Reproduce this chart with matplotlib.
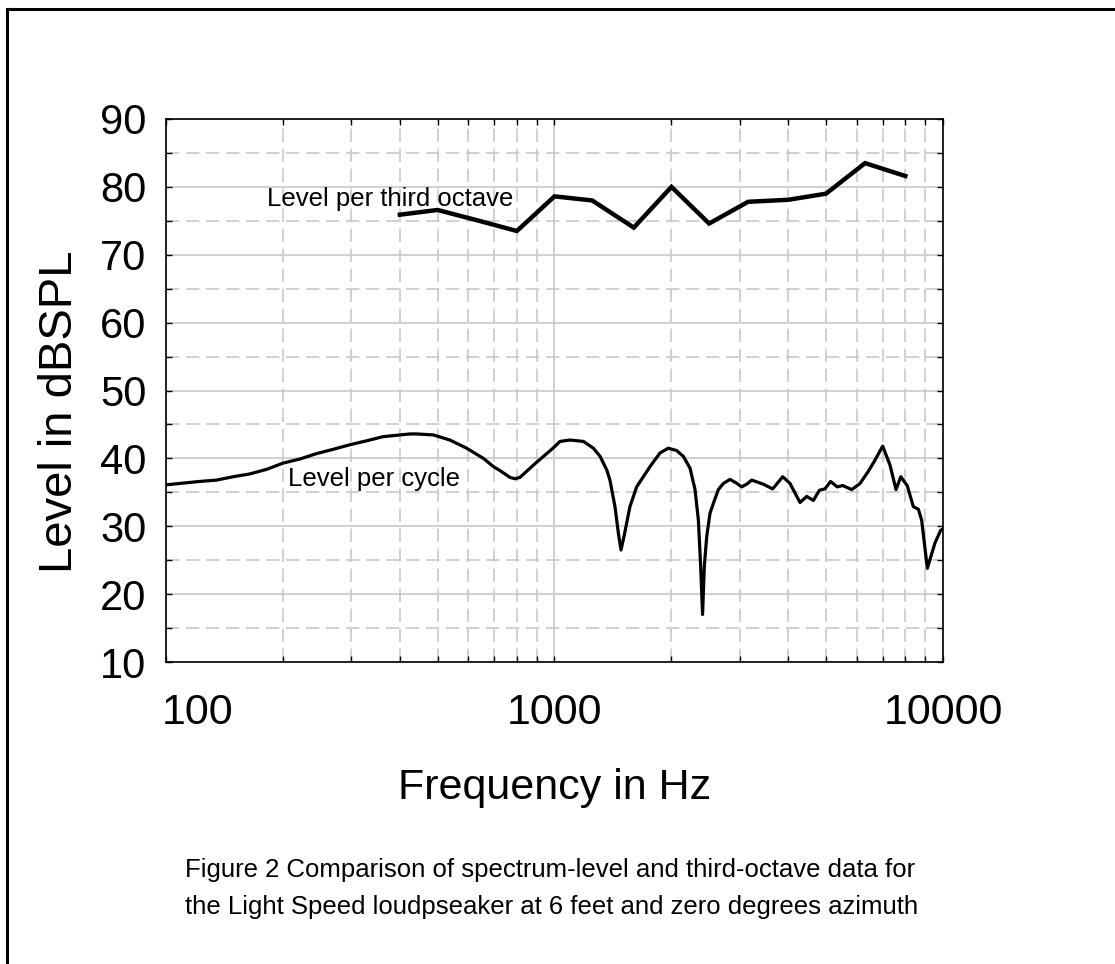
import matplotlib
matplotlib.use("Agg")
import matplotlib.pyplot as plt
from matplotlib.ticker import FixedLocator, NullFormatter, FixedFormatter
from matplotlib.lines import Line2D
from matplotlib.transforms import ScaledTranslation

plt.rcParams['font.family'] = ['Liberation Sans', 'DejaVu Sans']

# Third-octave band levels
third_freq = [400, 500, 630, 800, 1000, 1250, 1600, 2000, 2500, 3150, 4000, 5000, 6300, 8000]
third_level = [75.9, 76.6, 75.1, 73.5, 78.6, 78.0, 74.0, 80.0, 74.6, 77.8, 78.1, 79.0, 83.5, 81.6]

# Spectrum level (per cycle)
cycle_freq = [100, 122, 135, 149, 164, 182, 200, 221, 244, 270, 297, 329, 362, 400, 425, 442,
              488, 538, 594, 656, 696, 724, 768, 791, 815, 882, 1000,
              1033, 1096, 1187, 1259, 1310, 1363, 1389, 1431, 1460, 1483, 1510, 1534, 1564,
              1627, 1693, 1762, 1869, 1963, 2063, 2146, 2233, 2300, 2346, 2378, 2405, 2430,
              2465, 2513, 2565, 2641, 2720, 2829, 2932, 3033, 3124, 3218, 3447, 3644, 3868,
              4038, 4285, 4458, 4637, 4807, 4967, 5136, 5343, 5517, 5822, 6115, 6425,
              6645, 6995, 7305, 7570, 7786, 8094, 8385, 8641, 8812, 9113, 9530, 9862, 10000]
cycle_level = [36.1, 36.6, 36.8, 37.3, 37.7, 38.4, 39.3, 39.9, 40.7, 41.35, 42.0, 42.6, 43.2, 43.45, 43.6, 43.6,
               43.45, 42.7, 41.5, 40.0, 38.8, 38.2, 37.2, 37.0, 37.2, 39.0, 41.7,
               42.5, 42.7, 42.5, 41.5, 40.3, 38.3, 36.8, 32.9, 29.0, 26.5, 28.5, 30.5, 32.9,
               35.8, 37.3, 38.8, 40.8, 41.5, 41.15, 40.3, 38.55, 35.4, 30.9, 24.1, 17.0, 24.1,
               28.5, 31.9, 33.4, 35.4, 36.3, 36.9, 36.4, 35.8, 36.2, 36.8, 36.2, 35.5, 37.3,
               36.3, 33.5, 34.4, 33.8, 35.3, 35.5, 36.6, 35.8, 36.0, 35.4, 36.3, 38.1,
               39.5, 41.8, 39.0, 35.4, 37.3, 35.95, 32.9, 32.5, 30.9, 23.8, 27.5, 29.4, 29.6]

x_major = [100, 1000, 10000]
x_major_labels = ["100", "1000", "10000"]
x_minor = [200, 300, 400, 500, 600, 700, 800, 900,
           2000, 3000, 4000, 5000, 6000, 7000, 8000, 9000]
y_major = [10, 20, 30, 40, 50, 60, 70, 80, 90]
y_minor = [15, 25, 35, 45, 55, 65, 75, 85]

fig = plt.figure(figsize=(11.15, 9.64), dpi=100)
ax = fig.add_axes([166/1115, 1-662/964, 777/1115, 543/964])
ax.set_xscale('log')
ax.set_xlim(100, 10000)
ax.set_ylim(10, 90)

ax.xaxis.set_major_locator(FixedLocator(x_major))
ax.xaxis.set_major_formatter(FixedFormatter(x_major_labels))
ax.xaxis.set_minor_locator(FixedLocator(x_minor))
ax.xaxis.set_minor_formatter(NullFormatter())
ax.yaxis.set_major_locator(FixedLocator(y_major))
ax.yaxis.set_minor_locator(FixedLocator(y_minor))

ax.grid(which='major', color='#c8c8c8', linestyle='-', linewidth=1.2)
ax.grid(which='minor', color='#c8c8c8', linestyle=(0, (8, 4)), linewidth=1.2)
ax.set_axisbelow(True)

ax.tick_params(which='both', direction='in', top=True, right=True, length=4, width=1, color='black')
ax.tick_params(axis='x', which='major', labelsize=31, pad=22)
ax.tick_params(axis='y', which='major', labelsize=30, pad=14)
for s in ax.spines.values():
    s.set_linewidth(1.2)

ax.plot(third_freq, third_level, color='black', linewidth=3.2, solid_joinstyle='miter')
ax.plot(cycle_freq, cycle_level, color='black', linewidth=2.3, solid_joinstyle='round')

ax.text(181.6, 77.2, "Level per third octave", fontsize=18.5, va='baseline', ha='left')
ax.text(206, 35.95, "Level per cycle", fontsize=18.5, va='baseline', ha='left')

ax.set_xlabel("Frequency in Hz", fontsize=31)
ax.xaxis.set_label_coords(0.5, -0.195)
ax.set_ylabel("Level in dBSPL", fontsize=34)
ax.yaxis.set_label_coords(-0.108, 0.46)

fig.text(185/1115, 1-870/964, "Figure 2 Comparison of spectrum-level and third-octave data for",
         fontsize=18.5, va='center', ha='left')
fig.text(185/1115, 1-907/964, "the Light Speed loudpseaker at 6 feet and zero degrees azimuth",
         fontsize=18.5, va='center', ha='left')

fig.add_artist(Line2D([7/1115, 1.0], [1-9/964, 1-9/964], color='black', linewidth=2.2,
                      transform=fig.transFigure))
fig.add_artist(Line2D([7/1115, 7/1115], [0.0, 1-9/964], color='black', linewidth=2.2,
                      transform=fig.transFigure))

fig.canvas.draw()
first = ax.xaxis.get_major_ticks()[0].label1
first.set_horizontalalignment('left')
first.set_transform(first.get_transform() + ScaledTranslation(-4/100, 0, fig.dpi_scale_trans))

fig.savefig("out.png", dpi=100)
